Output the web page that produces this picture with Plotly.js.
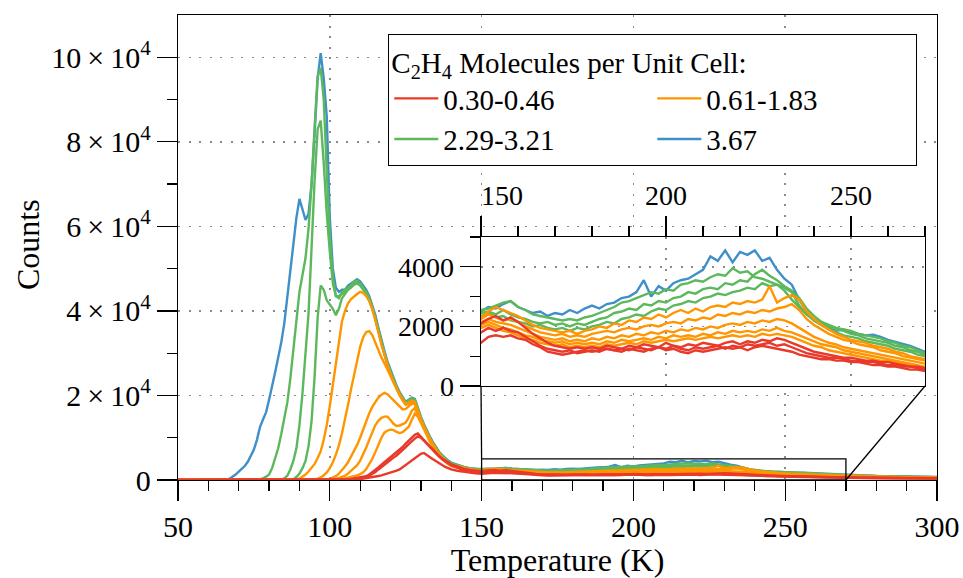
<!DOCTYPE html>
<html><head><meta charset="utf-8">
<script src="https://cdn.plot.ly/plotly-3.0.1.min.js"></script>
<style>html,body{margin:0;padding:0;background:#fff}#chart{width:963px;height:578px}</style>
</head><body><div id="chart"></div>
<script>
// Temperature grid (K)
const temperature = [
 50,55,60,65,66,67,68,69,
 70,71,72,73,74,75,76,77,78,79,80,81,82,83,84,85,86,87,88,89,90,91,92,93,94,95,96,97,98,99,
 100,101,102,103,104,105,106,107,108,109,110,111,112,113,114,115,116,117,118,119,
 120,121,122,123,124,125,126,127,128,129,130,131,132,133,134,135,136,137,138,139,140,
 142,144,146,148,150,152,154,156,158,160,162,164,166,168,170,172,174,176,178,180,
 182,184,186,188,190,192,194,196,198,200,202,204,206,208,210,212,214,216,218,220,
 222,224,226,228,230,232,234,236,238,240,242,244,246,248,250,252,254,256,258,260,
 262,264,266,268,270,
 275,280,285,290,295,300];

// 3.67 molecules per unit cell
const blue367 = [
 0,0,0,0,100,300,700,1300,
 2000,2700,3300,4300,5800,7200,9500,12500,14300,16000,
 19000,22000,25500,29000,32500,37000,43000,50000,56000,62000,
 66500,64000,61500,63000,70000,82000,95000,101000,95000,86000,
 62000,50000,45500,44500,45000,45000,46000,46500,47000,47500,
 47000,46000,45000,43500,41500,39000,36000,33000,30500,28000,
 26000,24000,22300,20800,19500,18500,19000,19500,19200,17000,
 15000,13200,11600,10200,8900,7700,6700,5900,5200,4600,
 4100,
 3600,3100,2800,2600,2500,2650,2600,2750,2850,2650,
 2550,2450,2500,2350,2450,2400,2550,2450,2600,2700,
 2600,2750,2800,2950,3000,3150,3550,3000,3350,3200,
 3450,3550,3600,3750,3900,4350,4200,4550,4150,4500,
 4400,4550,4200,4300,3900,3600,3400,2900,2500,2200,
 2050,1950,1850,1900,1800,1750,1700,1720,1650,1550,
 1480,1400,1350,1250,1150,
 1050,950,880,820,760,700];

// 2.29-3.21 molecules per unit cell
const greenA = [
 0,0,0,0,0,0,0,0,
 0,0,0,0,0,50,100,200,400,800,
 1300,2800,5000,7500,10800,14500,18300,24000,30800,38000,
 44500,48500,52500,59500,70000,83500,95500,97500,90000,73000,
 57500,48000,43500,43000,44500,45000,45500,46000,47000,47200,
 46500,45500,44500,43000,41000,38500,35500,32500,30000,27500,
 25500,23600,22000,20600,19300,18300,18800,19400,19000,16800,
 14800,13000,11400,10000,8700,7500,6500,5700,5000,4400,
 3900,
 3500,3000,2750,2600,2550,2600,2700,2800,2850,2650,
 2550,2400,2350,2300,2250,2200,2250,2200,2300,2350,
 2450,2550,2650,2800,2850,2950,3050,3150,3100,3250,
 3200,3400,3450,3550,3500,3650,3750,3700,3950,3800,
 3850,3650,3600,3500,3400,3300,3150,2700,2400,2250,
 2150,2050,1950,1900,1850,1750,1700,1650,1600,1500,
 1450,1350,1300,1200,1100,
 1000,900,830,770,720,670];
const greenB = [
 0,0,0,0,0,0,0,0,
 0,0,0,0,0,0,0,0,0,0,
 0,0,0,0,100,400,1000,2500,4500,7500,
 13000,20500,29500,39500,55000,71000,83000,85000,75000,63000,
 54000,46500,43500,43500,44000,44500,45500,46000,46500,46800,
 46300,45300,44200,42800,40800,38300,35300,32300,29800,27300,
 25300,23400,21800,20400,19200,18200,18600,19200,18800,16600,
 14600,12800,11200,9800,8600,7400,6400,5600,4900,4300,
 3850,
 3450,2950,2700,2500,2450,2500,2400,2550,2400,2300,
 2250,2150,2100,2150,2050,2100,2000,2100,2050,2150,
 2250,2300,2450,2500,2600,2550,2750,2700,2850,2800,
 2950,3000,3150,3100,3250,3300,3250,3450,3400,3550,
 3500,3750,3900,3700,3550,3350,3200,2950,2600,2350,
 2150,2000,1900,1850,1750,1700,1600,1550,1500,1450,
 1350,1300,1200,1150,1050,
 960,870,800,740,700,650];
const greenC = [
 0,0,0,0,0,0,0,0,
 0,0,0,0,0,0,0,0,0,0,
 0,0,0,0,0,0,0,0,200,700,
 1500,2800,4500,8000,14000,24500,38500,46000,45000,42500,
 41500,40500,39000,40500,43000,44000,45000,45500,46200,46500,
 46000,45000,44000,42600,40600,38200,35200,32200,29700,27200,
 25200,23300,21700,20300,19100,18100,18500,19000,18600,16400,
 14500,12700,11100,9700,8500,7300,6300,5500,4800,4200,
 3800,
 3400,2900,2600,2400,2350,2450,2300,2350,2200,2150,
 2100,2000,2050,1950,1900,1950,1850,1950,1900,2000,
 2050,2150,2100,2250,2300,2400,2350,2500,2600,2550,
 2700,2750,2850,2800,2950,3000,3100,3050,3150,3200,
 3300,3250,3450,3350,3400,3200,2900,2650,2400,2200,
 2050,1900,1800,1700,1650,1600,1500,1450,1400,1350,
 1250,1200,1150,1050,1000,
 920,840,780,720,680,630];

// 0.61-1.83 molecules per unit cell
const orangeA = [
 0,0,0,0,0,0,0,0,
 0,0,0,0,0,0,0,0,0,0,
 0,0,0,0,0,0,0,0,0,100,
 300,700,1300,2000,2800,3800,5200,6800,9500,13000,
 17500,22500,28000,33500,37500,40000,41800,42800,43500,44000,
 44500,44300,43500,42300,40500,38000,35000,32000,29500,27000,
 25000,23200,21600,20200,19000,18000,18300,18800,18500,16300,
 14400,12600,11000,9600,8400,7200,6200,5400,4700,4100,
 3700,
 3300,2800,2550,2400,2300,2500,2650,2550,2450,2350,
 2200,2050,1950,1900,1850,1800,1850,1750,1850,1900,
 2000,1950,2100,2050,2200,2150,2300,2250,2400,2300,
 2450,2550,2450,2600,2500,2650,2700,2650,2800,2750,
 2850,2800,2900,3350,2800,2950,3050,2900,2500,2250,
 2050,1900,1750,1650,1550,1500,1450,1350,1300,1250,
 1150,1100,1000,950,900,
 820,750,700,650,600,560];
const orangeB = [
 0,0,0,0,0,0,0,0,
 0,0,0,0,0,0,0,0,0,0,
 0,0,0,0,0,0,0,0,0,0,
 0,0,0,0,0,100,300,600,1100,1800,
 2800,4200,6000,8200,11000,14200,17800,21500,25000,28500,
 31500,33800,35000,35200,34300,32500,30500,29000,27600,26000,
 24500,23000,21400,20000,18800,17800,18000,18500,18200,16000,
 14200,12400,10900,9500,8300,7100,6100,5300,4600,4000,
 3600,
 3200,2750,2500,2300,2250,2400,2300,2200,2250,2150,
 2000,1900,1800,1750,1700,1750,1650,1700,1650,1750,
 1800,1850,1800,1900,1950,1900,2000,2050,2000,2100,
 2150,2100,2250,2200,2300,2250,2400,2350,2450,2400,
 2500,2450,2550,2500,2600,2650,2750,2550,2250,2050,
 1900,1750,1650,1550,1500,1400,1350,1300,1200,1150,
 1100,1000,950,900,850,
 780,720,670,620,580,540];
const orangeC = [
 0,0,0,0,0,0,0,0,
 0,0,0,0,0,0,0,0,0,0,
 0,0,0,0,0,0,0,0,0,0,
 0,0,0,0,0,0,0,0,0,100,
 250,500,900,1500,2300,3200,4200,5500,6900,8300,
 10000,12000,14000,15800,17300,18500,19500,20200,20600,20300,
 19600,18900,18200,17300,16700,16800,17300,18000,18000,15800,
 14000,12300,10800,9400,8200,7000,6000,5200,4500,3900,
 3500,
 3100,2650,2400,2200,2150,2250,2150,2100,2050,1950,
 1850,1750,1650,1600,1550,1600,1500,1550,1500,1600,
 1550,1650,1600,1700,1650,1750,1700,1800,1750,1850,
 1800,1900,1850,1950,1900,2000,1950,2050,2100,2050,
 2150,2100,2200,2150,2250,2200,2100,1950,1800,1650,
 1550,1450,1400,1300,1250,1200,1150,1100,1050,1000,
 950,900,850,800,750,
 700,650,600,560,520,490];
const orangeD = [
 0,0,0,0,0,0,0,0,
 0,0,0,0,0,0,0,0,0,0,
 0,0,0,0,0,0,0,0,0,0,
 0,0,0,0,0,0,0,0,0,0,
 0,100,250,450,700,1000,1500,2100,2800,3500,
 4600,6000,7700,9500,11500,13000,14000,14700,15000,15000,
 14200,13300,12800,12900,13200,13600,14800,16400,17000,15500,
 13800,12100,10600,9200,8000,6900,5900,5100,4400,3800,
 3400,
 3000,2550,2300,2100,2050,2150,2050,1950,1900,1800,
 1700,1650,1550,1500,1450,1500,1400,1450,1400,1450,
 1400,1500,1450,1550,1500,1550,1600,1550,1650,1600,
 1700,1650,1700,1650,1750,1700,1800,1750,1850,1800,
 1850,1800,1900,1850,1950,1850,1800,1700,1600,1500,
 1400,1350,1300,1200,1150,1100,1050,1000,950,900,
 850,800,750,700,650,
 620,580,540,500,470,440];
const orangeE = [
 0,0,0,0,0,0,0,0,
 0,0,0,0,0,0,0,0,0,0,
 0,0,0,0,0,0,0,0,0,0,
 0,0,0,0,0,0,0,0,0,0,
 0,0,0,100,200,350,500,700,900,1100,
 1400,1800,2600,3800,5000,6600,8300,10000,11200,11700,
 11900,11800,11400,11100,11300,11900,12600,14200,15700,15000,
 13400,11800,10300,9000,7800,6700,5800,5000,4300,3700,
 3300,
 2900,2450,2200,2000,1950,2050,1950,1850,1800,1700,
 1600,1550,1450,1400,1350,1400,1300,1350,1300,1350,
 1300,1400,1350,1400,1450,1400,1500,1450,1500,1550,
 1500,1550,1600,1550,1600,1650,1600,1650,1700,1650,
 1700,1650,1750,1700,1750,1700,1650,1550,1450,1350,
 1300,1200,1150,1100,1050,1000,950,900,850,850,
 800,750,700,650,600,
 560,520,490,460,430,400];

// 0.30-0.46 molecules per unit cell
const redA = [
 0,0,0,0,0,0,0,0,
 0,0,0,0,0,0,0,0,0,0,
 0,0,0,0,0,0,0,0,0,0,
 0,0,0,0,0,0,0,0,0,0,
 0,0,0,0,0,100,150,250,350,450,
 600,750,900,1300,1800,2400,3000,3600,4200,4800,
 5400,5900,6400,7000,7800,8600,9300,10000,10700,11000,
 10300,9500,8700,7900,7100,6400,5700,5100,4600,4100,
 3700,
 3200,2700,2400,2200,2100,2250,2350,2200,2300,2150,
 1950,1750,1600,1450,1350,1300,1250,1300,1250,1300,
 1250,1350,1300,1250,1350,1300,1400,1350,1300,1450,
 1350,1300,1400,1350,1450,1400,1350,1450,1500,1400,
 1500,1450,1550,1500,1600,1550,1450,1350,1250,1150,
 1100,1050,1000,950,950,900,850,850,800,800,
 750,700,650,650,600,
 560,520,490,460,430,400];
const redB = [
 0,0,0,0,0,0,0,0,
 0,0,0,0,0,0,0,0,0,0,
 0,0,0,0,0,0,0,0,0,0,
 0,0,0,0,0,0,0,0,0,0,
 0,0,0,0,0,50,100,150,250,350,
 450,600,750,1000,1400,1900,2500,3100,3700,4200,
 4800,5300,5800,6400,7100,7800,8500,9200,9800,10300,
 10000,9300,8500,7700,6900,6200,5500,4900,4400,3900,
 3500,
 2900,2400,2100,1900,1800,1950,1850,1950,1850,1800,
 1650,1500,1350,1250,1200,1150,1200,1100,1150,1200,
 1150,1250,1200,1250,1200,1300,1250,1200,1300,1250,
 1350,1250,1200,1300,1250,1300,1350,1250,1350,1300,
 1400,1350,1400,1450,1350,1400,1300,1200,1100,1050,
 1000,950,950,900,850,850,800,800,750,700,
 700,650,650,600,550,
 520,490,460,430,410,380];
const redC = [
 0,0,0,0,0,0,0,0,
 0,0,0,0,0,0,0,0,0,0,
 0,0,0,0,0,0,0,0,0,0,
 0,0,0,0,0,0,0,0,0,0,
 0,0,0,0,0,0,0,0,50,100,
 200,300,400,500,650,800,950,1100,1300,1500,
 1700,1900,2200,2500,3000,3500,4000,4500,5100,5700,
 6200,6400,6000,5400,4900,4400,3900,3500,3100,2800,
 2500,
 2200,1950,1750,1600,1450,1650,1700,1650,1700,1600,
 1550,1400,1300,1150,1100,1050,1100,1150,1200,1150,
 1200,1250,1200,1150,1250,1200,1150,1250,1300,1200,
 1250,1150,1100,1200,1150,1200,1250,1300,1250,1300,
 1200,1300,1350,1300,1250,1200,1150,1050,1000,950,
 900,900,850,850,800,800,750,700,700,650,
 650,600,550,550,500,
 470,440,420,400,380,360];

const groupNames = ['0.30-0.46', '0.61-1.83', '2.29-3.21', '3.67'];
const groupColors = ['#e8392b', '#ff9500', '#5cb85c', '#3f8fc8'];
const groupSeries = [[redA, redB, redC], [orangeA, orangeB, orangeC, orangeD, orangeE], [greenA, greenB, greenC], [blue367]];

const yTickVals = [0, 20000, 40000, 60000, 80000, 100000];
const yTickText = ['0', '2\u2009×\u200910<sup>4</sup>', '4\u2009×\u200910<sup>4</sup>', '6\u2009×\u200910<sup>4</sup>', '8\u2009×\u200910<sup>4</sup>', '10\u2009×\u200910<sup>4</sup>'];
const yMinorVals = [10000, 30000, 50000, 70000, 90000];
const insetTickVals = [150, 200, 250];
const insetTickText = ['\u2003\u2002150', '200', '250'];
const mainRangeT = [50, 300];
const mainRangeC = [0, 110000];
const zoomT = [150, 270];
const zoomC = [0, 5000];

// ---- layout geometry ----
const W = 963, H = 578;
const M = {l: 178, r: 26, t: 15, b: 98};
const pw = W - M.l - M.r, ph = H - M.t - M.b;
const insetX = [(481 - M.l) / pw, (925 - M.l) / pw];
const insetY = [(H - M.b - 386) / ph, (H - M.b - 237) / ph];
const FONT = 'Liberation Serif, Times New Roman, serif';

const traces = [];
// draw order: blue, green, orange, red (red on top)
for (let g = groupSeries.length - 1; g >= 0; g--) {
  groupSeries[g].forEach((ys, i) => {
    traces.push({x: temperature, y: ys, type: 'scatter', mode: 'lines', xaxis: 'x', yaxis: 'y',
      line: {color: groupColors[g], width: 2.4}, name: groupNames[g],
      showlegend: i === 0, legendrank: g + 1, hoverinfo: 'skip'});
    traces.push({x: temperature, y: ys, type: 'scatter', mode: 'lines', xaxis: 'x2', yaxis: 'y2',
      line: {color: groupColors[g], width: 2.4}, name: groupNames[g],
      showlegend: false, hoverinfo: 'skip'});
  });
}

const axisCommon = {
  ticks: 'outside', ticklen: 20, tickwidth: 1.3, tickcolor: '#000',
  showline: true, linecolor: '#000', linewidth: 1.3, mirror: true,
  showgrid: true, gridcolor: '#8a8a8a', gridwidth: 1.5, griddash: '2px,8.5px',
  zeroline: false, tickfont: {family: FONT, size: 30, color: '#000'}
};

const layout = {
  width: W, height: H, margin: M,
  paper_bgcolor: '#fff', plot_bgcolor: '#fff',
  font: {family: FONT, size: 30, color: '#000'},
  showlegend: true,
  xaxis: Object.assign({}, axisCommon, {
    domain: [0, 1], range: mainRangeT, tickmode: 'linear', tick0: 50, dtick: 50,
    minor: {dtick: 10, ticks: 'outside', ticklen: 10, tickwidth: 1.3, tickcolor: '#000', showgrid: false},
    title: {text: 'Temperature (K)', standoff: 12, font: {family: FONT, size: 32}}
  }),
  yaxis: Object.assign({}, axisCommon, {
    domain: [0, 1], range: mainRangeC, tickmode: 'array', tickvals: yTickVals, ticktext: yTickText,
    minor: {tickmode: 'array', tickvals: yMinorVals, ticks: 'outside', ticklen: 10, tickwidth: 1.3, tickcolor: '#000', showgrid: false}
  }),
  xaxis2: Object.assign({}, axisCommon, {
    domain: insetX, anchor: 'y2', side: 'top', range: zoomT, tickmode: 'array', tickvals: insetTickVals, ticktext: insetTickText,
    tickfont: {family: FONT, size: 28, color: '#000'},
    minor: {tickmode: 'linear', tick0: 150, dtick: 10, ticks: 'outside', ticklen: 10, tickwidth: 1.3, tickcolor: '#000', showgrid: false}
  }),
  yaxis2: Object.assign({}, axisCommon, {
    domain: insetY, anchor: 'x2', range: zoomC, tickmode: 'linear', tick0: 0, dtick: 2000,
    tickfont: {family: FONT, size: 28, color: '#000'},
    minor: {dtick: 1000, ticks: 'outside', ticklen: 10, tickwidth: 1.3, tickcolor: '#000', showgrid: false}
  }),
  legend: {
    x: (388 - M.l) / pw, y: (H - M.b - 34) / ph, xanchor: 'left', yanchor: 'top',
    orientation: 'h', bgcolor: '#fff', bordercolor: '#000', borderwidth: 1.3,
    font: {family: FONT, size: 29, color: '#000'}, entrywidth: 204, itemwidth: 44,
    tracegroupgap: 0, traceorder: 'normal',
    title: {text: 'C<sub>2</sub>H<sub>4</sub> Molecules per Unit Cell:', side: 'top', font: {family: FONT, size: 29}}
  },
  annotations: [{
    text: 'Counts', xref: 'paper', yref: 'paper', x: (28 - M.l) / pw, y: (H - M.b - 245) / ph,
    textangle: -90, showarrow: false, xanchor: 'center', yanchor: 'middle', font: {family: FONT, size: 32}
  }],
  shapes: [
    {type: 'rect', xref: 'x', yref: 'y', x0: zoomT[0], x1: zoomT[1], y0: zoomC[0], y1: zoomC[1],
     line: {color: '#000', width: 1.3}},
    {type: 'line', xref: 'paper', yref: 'paper',
     x0: (zoomT[0] - mainRangeT[0]) / (mainRangeT[1] - mainRangeT[0]), y0: zoomC[1] / mainRangeC[1],
     x1: insetX[0], y1: insetY[0], line: {color: '#000', width: 1.3}},
    {type: 'line', xref: 'paper', yref: 'paper',
     x0: (zoomT[1] - mainRangeT[0]) / (mainRangeT[1] - mainRangeT[0]), y0: 0,
     x1: insetX[1], y1: insetY[0], line: {color: '#000', width: 1.3}}
  ]
};

Plotly.newPlot('chart', traces, layout, {displayModeBar: false, staticPlot: true});
</script></body></html>
